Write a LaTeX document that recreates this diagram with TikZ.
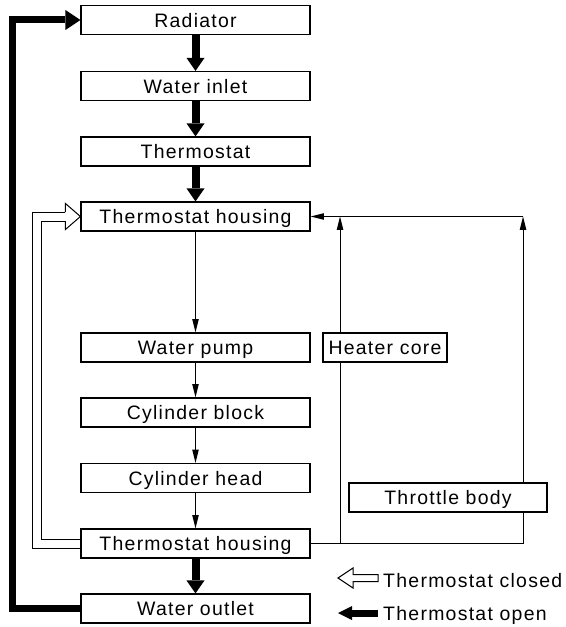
\documentclass[tikz,border=0pt]{standalone}
\usepackage{fontspec}
\setmainfont{Liberation Sans}[LetterSpace=6.5]
\usepackage{tikz}
\usetikzlibrary{shapes,arrows.meta,positioning,calc}

\begin{document}
\begin{tikzpicture}[x=0.3mm,y=-0.3mm,
        box/.style={draw,line width=0.35mm,fill=white,minimum height=8.7mm,minimum width=68.7mm,inner sep=0pt,text height=4.4mm,text depth=0mm,font=\fontsize{16.6}{19}\selectfont},
        legend/.style={anchor=base west,inner sep=0pt,font=\fontsize{16.6}{19}\selectfont},
        thinline/.style={line width=0.3mm},
        thinflow/.style={line width=0.3mm,-{Triangle[length=4mm,width=2mm,line width=0pt]}},
        thickflow/.style={line width=2.4mm,-{Triangle[length=3.9mm,width=5.4mm,line width=0pt]}},
        returnflow/.style={line width=2.1mm,line join=miter,-{Triangle[length=4.5mm,width=6mm,line width=0pt]}},
        openline/.style={double,double distance=2.4mm,line width=0.3mm,line join=miter}]
            \useasboundingbox (0,0) rectangle (565,627);
            \node[box] (rad) at (195.5,20) {Radiator};
            \node[box] (inlet) at (195.5,86) {Water inlet};
            \node[box] (thermo) at (195.5,151.5) {Thermostat};
            \node[box] (tophs) at (195.5,216.5) {Thermostat housing};
            \node[box] (pump) at (195.5,347.5) {Water pump};
            \node[box] (block) at (195.5,412.5) {Cylinder block};
            \node[box] (head) at (195.5,478) {Cylinder head};
            \node[box] (boths) at (195.5,543.5) {Thermostat housing};
            \node[box] (outlet) at (195.5,608.5) {Water outlet};
            \node[box,minimum width=37.2mm] (heater) at (385,347.5) {Heater core};
            \node[box,minimum width=59.4mm] (throttle) at (448,497.5) {Throttle body};
            \coordinate (hcbot) at (340,543.5);
            \coordinate (hctop) at (340,216.5);
            \coordinate (tbbot) at (523,543.5);
            \coordinate (tbtop) at (523,216.5);
            \draw[thickflow] (rad.south) -- (inlet.north);
            \draw[thickflow] (inlet.south) -- (thermo.north);
            \draw[thickflow] (thermo.south) -- (tophs.north);
            \draw[thickflow] (boths.south) -- (outlet.north);
            \draw[thinflow] (tophs.south) -- (pump.north);
            \draw[thinflow] (pump.south) -- (block.north);
            \draw[thinflow] (block.south) -- (head.north);
            \draw[thinflow] (head.south) -- (boths.north);
            \draw[thinline] (boths.east) -- (tbbot) -- (throttle.south -| tbbot);
            \draw[thinflow] (throttle.north -| tbbot) -- (tbtop);
            \draw[thinflow] (tbtop) -- (tophs.east);
            \draw[thinline] (hcbot) -- (heater.south -| hcbot);
            \draw[thinflow] (heater.north -| hcbot) -- (hctop);
            \draw[returnflow] (outlet.west) -- ++(-68,0) |- (rad.west);
            \draw[openline] (boths.west) -- ++(-43.5,0) |- ($(tophs.west)+(-15,0)$);
            \fill[white] (tophs.west) -- ($(tophs.west)+(-15,13)$) -- ($(tophs.west)+(-15,-13)$) -- cycle;
            \draw[thinline,line join=miter] ($(tophs.west)+(-15,4.5)$) -- ($(tophs.west)+(-15,13)$) -- (tophs.west) -- ($(tophs.west)+(-15,-13)$) -- ($(tophs.west)+(-15,-4.5)$);
            \node[legend] (lgclosed) at (383,587) {Thermostat closed};
            \node[legend] (lgopen) at (383,620) {Thermostat open};
            \draw[thinline,fill=white] (338,578) -- ++(15,-10) -- ++(0,6.5) -- ++(25,0) -- ++(0,7) -- ++(-25,0) -- ++(0,6.5) -- cycle;
            \draw[line width=2.1mm,-{Triangle[length=4.2mm,width=4.2mm,line width=0pt]}] (378,613) -- (338,613);
        \end{tikzpicture}
\end{document}
